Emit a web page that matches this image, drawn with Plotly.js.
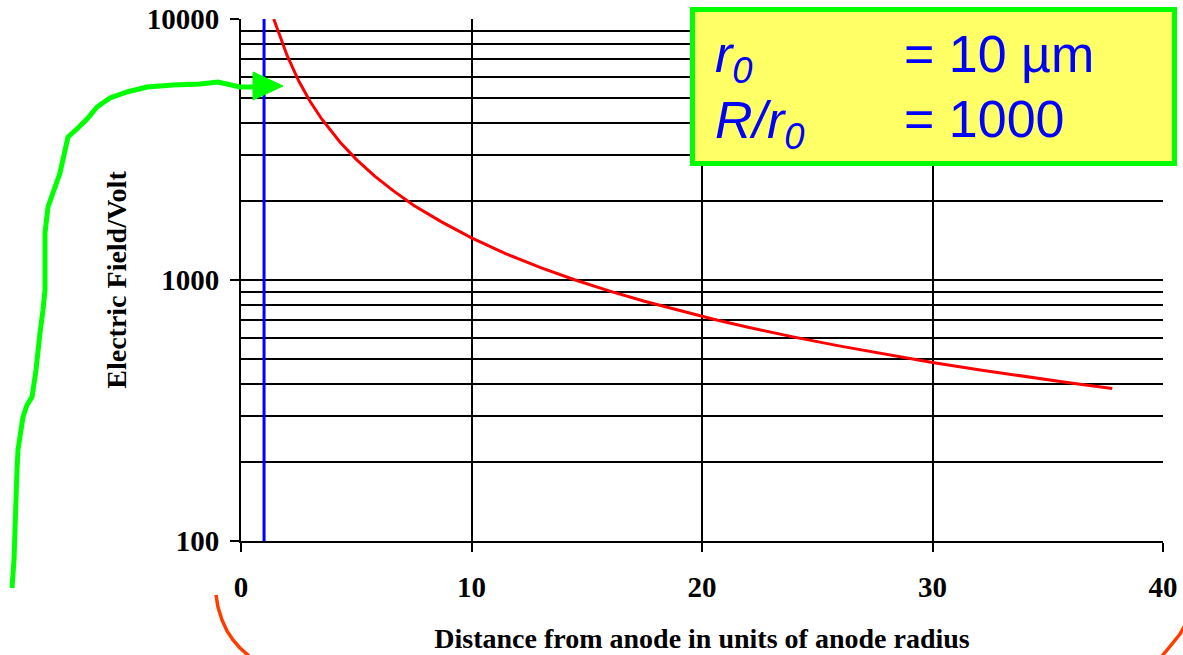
<!DOCTYPE html>
<html>
<head>
<meta charset="utf-8">
<script src="https://cdn.plot.ly/plotly-3.0.1.min.js"></script>
<style>html,body{margin:0;padding:0;background:#fff;} #chart{width:1183px;height:655px;}</style>
</head>
<body>
<div id="chart"></div>
<script>
// Distance from anode (units of anode radius) and electric field (Volt)
const distance = [1.42, 1.7, 2.0, 2.5, 3.0, 3.5, 4.3, 5.0, 5.8, 6.6, 7.5, 8.7, 10, 11.5, 13, 14.5, 16, 17.5, 19, 20.5, 22, 24, 26, 28, 30, 32, 34, 36, 37.8];
const field    = [10000, 8500, 7250, 5800, 4830, 4140, 3370, 2900, 2500, 2200, 1930, 1670, 1450, 1260, 1115, 1000, 906, 829, 763, 707, 659, 604, 558, 518, 483, 453, 426, 403, 384];
// Anode surface marker (r = r0)
const anodeX = [1, 1];
const anodeY = [100, 10000];
const xTickVals = [0, 10, 20, 30, 40];
const yTickVals = [100, 1000, 10000];
const yTickText = ['100', '1000', '10000'];

// pixel -> paper helpers for the hand-drawn decorations
const L = 241, R = 1163, T = 19, B = 541;
const px = x => (x - L) / (R - L);
const py = y => (B - y) / (B - T);
function pathFrom(pts, close) {
  return pts.map((p, i) => (i ? 'L' : 'M') + px(p[0]).toFixed(5) + ',' + py(p[1]).toFixed(5)).join(' ') + (close ? ' Z' : '');
}
const greenPts = [[12,588],[14,560],[15,530],[16,500],[17,470],[18,450],[21,430],[23,417],[27,405],[32,397],[36,370],[40,333],[43,310],[45,290],[45,260],[45,233],[48,207],[54,190],[60,173],[64,155],[68,137],[78,128],[88,118],[97,107],[110,98],[127,92],[147,87],[173,85],[200,84],[218,82],[240,87],[256,87]];
const headPts = [[253,72],[283,86],[253,100]];
const orangeL = [[216,595],[218,607],[222,620],[227,631],[233,640],[240,648],[249,656]];
const orangeR = [[1185,625],[1180,634],[1172,644],[1162,656]];

const traces = [
  {x: distance, y: field, type: 'scatter', mode: 'lines', line: {color: '#ff0000', width: 3}, hoverinfo: 'skip'},
  {x: anodeX, y: anodeY, type: 'scatter', mode: 'lines', line: {color: '#0000ff', width: 3}, hoverinfo: 'skip'}
];

const tickFont = {family: 'Liberation Serif, Times New Roman, serif', size: 29, color: '#000'};
const titleFont = {family: 'Liberation Serif, Times New Roman, serif', size: 28, color: '#000'};
const boxFont = {family: 'Liberation Sans, Arial, sans-serif', size: 52, color: '#0000ff'};

const layout = {
  width: 1183, height: 655,
  margin: {l: L, r: 1183 - R, t: T, b: 655 - B},
  paper_bgcolor: '#fff', plot_bgcolor: '#fff',
  showlegend: false,
  xaxis: {
    range: [0, 40], tickvals: xTickVals, ticktext: xTickVals.map(v => '<b>' + v + '</b>'),
    showgrid: true, gridcolor: '#000', gridwidth: 2, zeroline: false,
    showline: true, linecolor: '#000', linewidth: 2,
    ticks: 'outside', ticklen: 9, tickwidth: 2, tickcolor: '#000',
    tickfont: tickFont, ticklabelstandoff: 10,
    title: {text: '<b>Distance from anode in units of anode radius</b>', font: titleFont, standoff: 27}
  },
  yaxis: {
    type: 'log', range: [2, 4], tickvals: yTickVals, ticktext: yTickText.map(t => '<b>' + t + '</b>'),
    showgrid: true, gridcolor: '#000', gridwidth: 2, zeroline: false,
    showline: true, linecolor: '#000', linewidth: 2,
    ticks: 'outside', ticklen: 9, tickwidth: 2, tickcolor: '#000',
    tickfont: tickFont, ticklabelstandoff: 5,
    minor: {dtick: 'D1', showgrid: true, gridcolor: '#000', gridwidth: 2, ticks: ''},
    title: {text: '<b>Electric Field/Volt</b>', font: titleFont, standoff: 12}
  },
  shapes: [
    {type: 'path', xref: 'paper', yref: 'paper', path: pathFrom(greenPts), line: {color: '#00ff00', width: 5}, layer: 'above'},
    {type: 'path', xref: 'paper', yref: 'paper', path: pathFrom(headPts, true), fillcolor: '#00ff00', line: {color: '#00ff00', width: 1}, layer: 'above'},
    {type: 'path', xref: 'paper', yref: 'paper', path: pathFrom(orangeL), line: {color: '#ff3d00', width: 3.5}, layer: 'above'},
    {type: 'path', xref: 'paper', yref: 'paper', path: pathFrom(orangeR), line: {color: '#ff3d00', width: 3.5}, layer: 'above'},
    {type: 'rect', xref: 'paper', yref: 'paper', x0: px(692.5), x1: px(1174.5), y0: py(9.5), y1: py(163.5), fillcolor: '#ffff66', line: {color: '#00ff00', width: 5}, layer: 'above'}
  ],
  annotations: [
    {xref: 'paper', yref: 'paper', x: px(713), y: py(58), xanchor: 'left', yanchor: 'middle', showarrow: false, text: '<i>r<sub>0</sub></i>', font: boxFont},
    {xref: 'paper', yref: 'paper', x: px(902), y: py(54), xanchor: 'left', yanchor: 'middle', showarrow: false, text: '= 10 µm', font: boxFont},
    {xref: 'paper', yref: 'paper', x: px(713), y: py(124), xanchor: 'left', yanchor: 'middle', showarrow: false, text: '<i>R/r<sub>0</sub></i>', font: boxFont},
    {xref: 'paper', yref: 'paper', x: px(902), y: py(119), xanchor: 'left', yanchor: 'middle', showarrow: false, text: '= 1000', font: boxFont}
  ]
};

Plotly.newPlot('chart', traces, layout, {staticPlot: true, displayModeBar: false});
</script>
</body>
</html>
